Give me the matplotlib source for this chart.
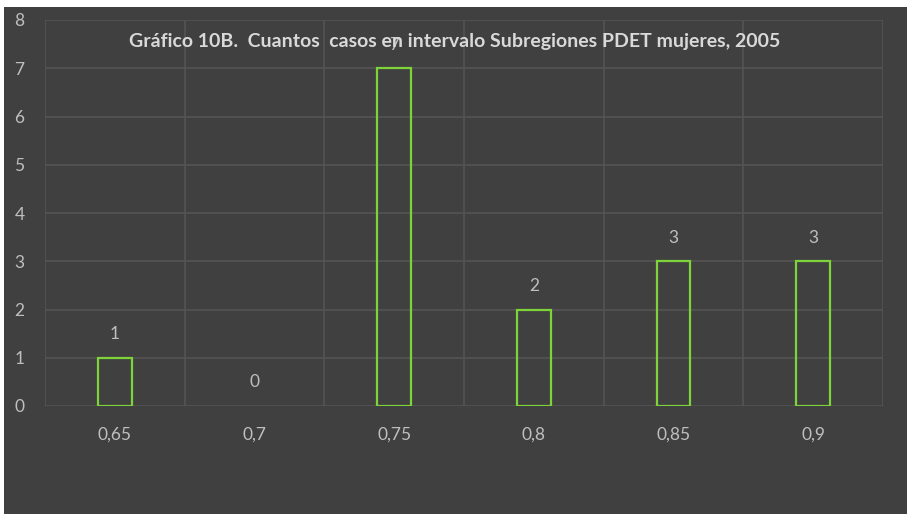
import matplotlib
matplotlib.use('Agg')
import matplotlib.pyplot as plt
from matplotlib.patches import Rectangle
import numpy as np

# data
categories = ['0,65', '0,7', '0,75', '0,8', '0,85', '0,9']
counts = [1, 0, 7, 2, 3, 3]
y_ticks = [0, 1, 2, 3, 4, 5, 6, 7, 8]
title = 'Gráfico 10B.  Cuantos  casos en intervalo Subregiones PDET mujeres, 2005'

# colours
BG = '#404040'
GRID = '#545454'
TEXT = '#bfbfbf'
TITLE = '#d9d9d9'
BAR_EDGE = '#7ed23a'

plt.rcParams['font.family'] = ['Lato', 'DejaVu Sans']

fig = plt.figure(figsize=(9.07, 5.14), dpi=100)
fig.patch.set_facecolor(BG)

# thin white margin on top and left
fig.patches.append(Rectangle((0, 1 - 7/514), 1, 7/514, transform=fig.transFigure,
                             facecolor='white', edgecolor='none'))
fig.patches.append(Rectangle((0, 0), 4/907, 1, transform=fig.transFigure,
                             facecolor='white', edgecolor='none'))

ax = fig.add_axes([45/907, 1 - 406/514, 838/907, 386/514])
ax.set_facecolor(BG)

x = np.arange(len(categories))
bars = ax.bar(x, counts, width=0.24, facecolor='none', edgecolor=BAR_EDGE,
              linewidth=1.6, zorder=3)
# an empty bin draws no outline
for b, c in zip(bars, counts):
    if c == 0:
        b.set_linewidth(0)

# data labels above each bar
for xi, c in zip(x, counts):
    ax.annotate(str(c), (xi, c), xytext=(0, 17), textcoords='offset points',
                ha='center', va='center', color=TEXT, fontsize=12.5, zorder=4)

ax.set_xlim(-0.5, len(categories) - 0.5)
ax.set_ylim(0, 8)

ax.set_xticks(x)
ax.set_xticklabels(categories)
ax.set_xticks(np.arange(-0.5, len(categories)), minor=True)
ax.set_yticks(y_ticks)

ax.tick_params(axis='x', which='both', length=0, pad=15, colors=TEXT,
               labelsize=12.5)
ax.tick_params(axis='y', which='both', length=0, pad=22, colors=TEXT,
               labelsize=12.5)
for lbl in ax.get_yticklabels():
    lbl.set_horizontalalignment('left')

ax.grid(True, axis='y', which='major', color=GRID, linewidth=1.2, zorder=1)
ax.grid(True, axis='x', which='minor', color=GRID, linewidth=1.2, zorder=1)
ax.grid(False, axis='x', which='major')

for s in ax.spines.values():
    s.set_visible(False)

fig.text(455/907, 1 - 42/514, title, ha='center', va='center',
         color=TITLE, fontsize=14, fontweight='bold', zorder=5)

fig.savefig('out.png', dpi=100, facecolor=fig.get_facecolor())
